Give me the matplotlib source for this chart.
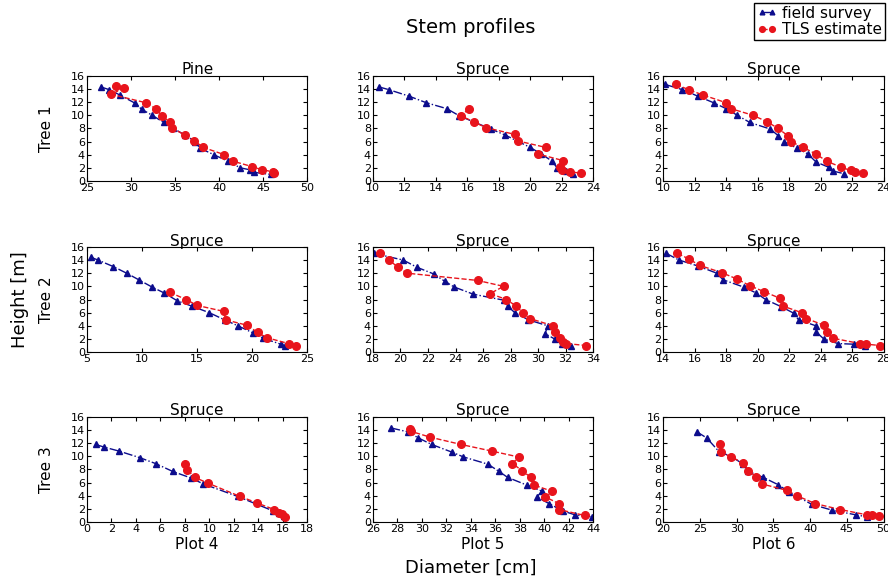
import matplotlib
matplotlib.use("Agg")
import matplotlib.pyplot as plt

# field survey (blue) and TLS estimate (red): diameter [cm], height [m]
p4t1_field_d = [26.6, 27.5, 28.7, 30.5, 31.2, 32.4, 33.7, 34.8, 36.1, 37.3, 37.8, 39.4, 41.0, 42.4, 43.5, 44.0, 45.9]
p4t1_field_h = [14.3, 13.9, 13.1, 11.8, 10.9, 10.0, 8.9, 8.0, 7.0, 6.0, 5.0, 4.0, 3.0, 2.0, 1.7, 1.3, 1.0]
p4t1_tls_d = [28.3, 29.2, 27.7, 31.7, 32.8, 33.5, 34.4, 34.6, 36.1, 37.2, 38.2, 40.6, 41.6, 43.7, 44.9, 46.1, 46.2]
p4t1_tls_h = [14.4, 14.1, 13.2, 11.9, 11.0, 9.9, 9.0, 8.1, 7.0, 6.1, 5.1, 4.0, 3.0, 2.2, 1.7, 1.4, 1.2]

p5t1_field_d = [10.4, 11.0, 12.3, 13.4, 14.7, 15.5, 17.5, 18.4, 20.0, 20.7, 21.4, 21.7, 22.3, 22.7]
p5t1_field_h = [14.3, 13.9, 12.9, 11.9, 11.0, 9.9, 7.9, 7.0, 5.1, 4.1, 3.0, 2.0, 1.5, 1.0]
p5t1_tls_d = [16.1, 15.6, 16.4, 17.2, 19.0, 19.2, 21.0, 20.5, 22.1, 21.9, 22.0, 22.5, 23.2]
p5t1_tls_h = [11.0, 9.9, 9.0, 8.1, 7.1, 6.1, 5.1, 4.1, 3.1, 2.2, 1.7, 1.4, 1.2]

p6t1_field_d = [10.1, 11.2, 12.2, 13.2, 14.0, 14.7, 15.5, 16.8, 17.3, 17.7, 18.5, 19.2, 19.7, 20.5, 20.8, 21.5]
p6t1_field_h = [14.7, 13.9, 12.9, 11.9, 11.0, 10.0, 8.9, 7.9, 6.9, 5.9, 5.0, 4.1, 2.9, 2.1, 1.5, 1.1]
p6t1_tls_d = [10.8, 11.6, 12.5, 14.0, 14.3, 15.7, 16.6, 17.3, 17.9, 18.1, 18.9, 19.7, 20.4, 21.3, 21.9, 22.2, 22.7]
p6t1_tls_h = [14.7, 13.9, 13.1, 11.9, 11.0, 10.0, 9.0, 8.0, 6.9, 6.0, 5.1, 4.1, 3.0, 2.1, 1.6, 1.4, 1.2]

p4t2_field_d = [5.4, 6.0, 7.4, 8.6, 9.7, 10.9, 12.0, 13.2, 14.5, 16.1, 17.5, 18.7, 20.1, 21.0, 22.6, 23.0]
p4t2_field_h = [14.4, 14.0, 13.0, 12.0, 11.0, 9.9, 9.0, 7.8, 7.0, 6.0, 4.9, 4.0, 2.9, 2.1, 1.2, 0.9]
p4t2_tls_d = [12.5, 14.0, 15.0, 17.4, 17.6, 19.5, 20.5, 21.3, 23.3, 24.0]
p4t2_tls_h = [9.1, 8.0, 7.1, 6.2, 4.9, 4.1, 3.0, 2.2, 1.3, 1.0]

p5t2_field_d = [18.1, 20.2, 21.2, 22.4, 23.2, 23.9, 25.3, 27.5, 27.8, 28.3, 29.3, 30.7, 30.5, 31.2, 31.7, 32.4]
p5t2_field_h = [15.0, 14.0, 12.9, 11.9, 10.8, 9.9, 8.8, 7.9, 7.0, 6.0, 4.9, 4.0, 2.8, 2.0, 1.3, 1.0]
p5t2_tls_d = [18.5, 19.2, 19.8, 20.5, 25.6, 27.5, 26.5, 27.7, 28.4, 28.9, 29.4, 31.1, 31.2, 31.6, 31.8, 32.0, 33.5]
p5t2_tls_h = [15.0, 14.0, 12.9, 12.0, 10.9, 10.0, 8.9, 8.0, 7.0, 6.0, 5.1, 4.0, 3.0, 2.1, 1.6, 1.3, 1.0]

p6t2_field_d = [14.2, 15.0, 16.2, 17.4, 17.8, 19.1, 19.9, 20.5, 21.5, 22.3, 22.6, 23.7, 23.7, 24.2, 25.1, 26.1, 26.8]
p6t2_field_h = [15.0, 14.0, 13.1, 12.0, 11.0, 9.9, 9.0, 8.0, 6.9, 5.9, 4.9, 4.0, 3.1, 2.0, 1.3, 1.2, 0.9]
p6t2_tls_d = [14.9, 15.6, 16.3, 17.7, 18.7, 19.5, 20.4, 21.4, 21.6, 22.8, 23.1, 24.2, 24.4, 24.8, 26.5, 26.9, 27.8]
p6t2_tls_h = [15.0, 14.2, 13.2, 12.1, 11.1, 10.1, 9.2, 8.2, 7.0, 6.0, 5.1, 4.1, 3.1, 2.1, 1.3, 1.2, 1.0]

p4t3_field_d = [0.7, 1.4, 2.6, 4.3, 5.6, 7.0, 8.5, 9.5, 12.3, 15.2, 15.7, 16.1]
p4t3_field_h = [11.8, 11.4, 10.8, 9.8, 8.9, 7.7, 6.7, 5.8, 3.9, 1.7, 1.3, 0.9]
p4t3_tls_d = [8.0, 8.2, 8.8, 9.9, 12.5, 13.9, 15.3, 15.7, 15.9, 16.2]
p4t3_tls_h = [8.9, 7.9, 6.8, 5.9, 3.9, 2.9, 1.9, 1.3, 1.2, 0.8]

p5t3_field_d = [27.5, 28.9, 29.7, 30.8, 32.5, 33.4, 35.4, 36.3, 37.0, 38.6, 39.8, 39.4, 40.4, 41.5, 42.5, 43.9]
p5t3_field_h = [14.3, 13.7, 12.8, 11.8, 10.6, 9.9, 8.8, 7.7, 6.8, 5.6, 4.7, 3.8, 2.8, 1.7, 1.1, 0.8]
p5t3_tls_d = [29.0, 29.1, 30.7, 33.2, 35.7, 37.9, 37.4, 38.2, 38.9, 39.2, 40.6, 40.1, 41.2, 41.2, 43.3]
p5t3_tls_h = [14.2, 13.8, 12.9, 11.8, 10.8, 9.9, 8.9, 7.8, 6.8, 5.6, 4.7, 3.8, 2.8, 1.9, 1.0]

p6t3_field_d = [24.6, 25.9, 27.6, 29.2, 30.9, 31.6, 33.6, 35.6, 37.1, 40.2, 43.0, 46.2, 47.7]
p6t3_field_h = [13.7, 12.8, 10.7, 10.0, 8.8, 7.7, 6.8, 5.7, 4.6, 2.7, 1.8, 1.1, 0.8]
p6t3_tls_d = [27.7, 27.8, 29.2, 30.9, 31.6, 32.6, 33.4, 36.9, 38.2, 40.7, 44.1, 47.7, 48.4, 49.4]
p6t3_tls_h = [11.9, 10.7, 9.9, 9.0, 7.8, 6.9, 5.8, 4.8, 4.0, 2.8, 1.9, 1.1, 1.0, 0.9]

panels = [
    [("Pine", p4t1_field_d, p4t1_field_h, p4t1_tls_d, p4t1_tls_h, (25, 50)),
     ("Spruce", p5t1_field_d, p5t1_field_h, p5t1_tls_d, p5t1_tls_h, (10, 24)),
     ("Spruce", p6t1_field_d, p6t1_field_h, p6t1_tls_d, p6t1_tls_h, (10, 24))],
    [("Spruce", p4t2_field_d, p4t2_field_h, p4t2_tls_d, p4t2_tls_h, (5, 25)),
     ("Spruce", p5t2_field_d, p5t2_field_h, p5t2_tls_d, p5t2_tls_h, (18, 34)),
     ("Spruce", p6t2_field_d, p6t2_field_h, p6t2_tls_d, p6t2_tls_h, (14, 28))],
    [("Spruce", p4t3_field_d, p4t3_field_h, p4t3_tls_d, p4t3_tls_h, (0, 18)),
     ("Spruce", p5t3_field_d, p5t3_field_h, p5t3_tls_d, p5t3_tls_h, (26, 44)),
     ("Spruce", p6t3_field_d, p6t3_field_h, p6t3_tls_d, p6t3_tls_h, (20, 50))],
]
x_steps = [[5, 2, 2], [5, 2, 2], [2, 2, 5]]
tree_labels = ["Tree 1", "Tree 2", "Tree 3"]
plot_labels = ["Plot 4", "Plot 5", "Plot 6"]

fig = plt.figure(figsize=(8.88, 5.81), dpi=100)

lefts = [0.098, 0.420, 0.747]
bottoms = [0.6885, 0.394, 0.1015]
w, h = 0.248, 0.181

for r in range(3):
    for c in range(3):
        name, fd, fh, td, th, xl = panels[r][c]
        ax = fig.add_axes([lefts[c], bottoms[r], w, h])
        ax.plot(fd, fh, color="#0c0c8c", ls="-.", lw=1, marker="^", ms=4.5,
                mec="#0c0c8c", label="field survey")
        ax.plot(td, th, color="#e8141c", ls="--", lw=1, marker="o", ms=5.5,
                mec="#e8141c", label="TLS estimate")
        ax.set_xlim(*xl)
        ax.set_ylim(0, 16)
        ax.set_xticks(range(xl[0], xl[1] + 1, x_steps[r][c]))
        ax.set_yticks(range(0, 17, 2))
        ax.tick_params(direction="in", top=True, right=True, labelsize=8,
                       length=3, pad=1.5, colors="black")
        for s in ax.spines.values():
            s.set_linewidth(0.8)
        ax.set_title(name, fontsize=11, pad=1)
        if r == 2:
            ax.set_xlabel(plot_labels[c], fontsize=11, labelpad=2)
        if c == 0:
            ax.set_ylabel(tree_labels[r], fontsize=11, labelpad=12)
        if r == 0 and c == 0:
            handles, labels = ax.get_legend_handles_labels()

fig.text(0.53, 0.952, "Stem profiles", ha="center", va="center", fontsize=14)
fig.text(0.022, 0.485, "Height [m]", ha="center", va="center", rotation=90, fontsize=13)
fig.text(0.53, 0.022, "Diameter [cm]", ha="center", va="center", fontsize=13)

fig.legend(handles, labels, loc="upper right", bbox_to_anchor=(0.998, 0.998),
           numpoints=2, markerscale=0.75, fontsize=11, fancybox=False,
           edgecolor="black", framealpha=1, handlelength=1.3,
           handletextpad=0.3, borderpad=0.2, labelspacing=0.1,
           borderaxespad=0.1)

fig.savefig("out.png", dpi=100)
